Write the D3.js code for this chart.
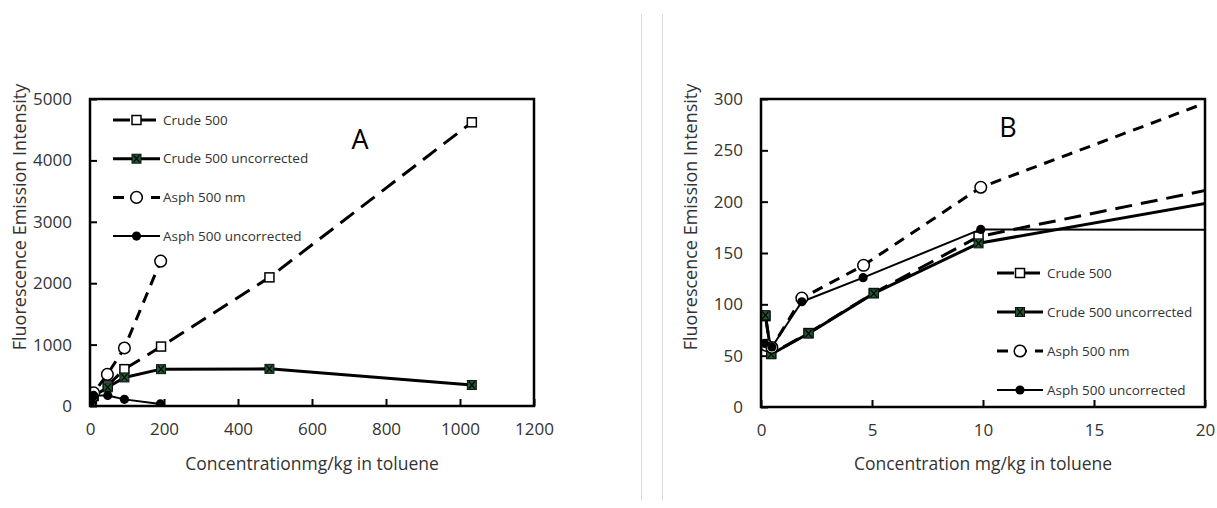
<!DOCTYPE html>
<html>
<head>
<meta charset="utf-8">
<script src="https://cdn.jsdelivr.net/npm/d3@7"></script>
<style>
  body { margin: 0; background: #fff; }
  svg text { font-family: "Open Sans", sans-serif; }
</style>
</head>
<body>
<svg id="chart" width="1217" height="508"></svg>
<script>
// Concentrations (mg/kg in toluene) and fluorescence emission intensities
const crudeConc      = [0.2, 0.46, 2.14, 5.08, 9.8, 48, 93, 192, 485, 1032];
const crude500       = [88.5, 51.8, 72, 111, 166, 334, 600, 968, 2095, 4620];
const crudeUncorr    = [89.5, 51.4, 71.6, 110.7, 159.4, 305, 465, 600, 605, 342];
const asphConc       = [0.24, 0.49, 1.84, 4.62, 9.9, 47, 93, 191];
const asph500        = [60, 58, 106, 138, 214, 515, 945, 2360];
const asphUncorrConc = [0.15, 0.49, 1.84, 4.6, 9.9, 48, 93, 190];
const asphUncorr     = [62, 58.5, 102.5, 126, 173, 172, 108, 33];

const seriesNames = ["Crude 500", "Crude 500 uncorrected", "Asph 500 nm", "Asph 500 uncorrected"];

const ticksAx = [0, 200, 400, 600, 800, 1000, 1200];
const ticksAy = [0, 1000, 2000, 3000, 4000, 5000];
const ticksBx = [0, 5, 10, 15, 20];
const ticksBy = [0, 50, 100, 150, 200, 250, 300];

const svg = d3.select("#chart");
const TEXT = "#333333";
const GREEN = "#1d5a33";

// light separators between the two panels
svg.selectAll("line.sep").data([641.5, 662.5]).join("line")
  .attr("x1", d => d).attr("x2", d => d).attr("y1", 14).attr("y2", 500)
  .attr("stroke", "#d9d9d9").attr("stroke-width", 1);

const series = [
  { name: seriesNames[0], xs: crudeConc, ys: crude500, dash: "17,9", width: 3, marker: "openSquare" },
  { name: seriesNames[1], xs: crudeConc, ys: crudeUncorr, dash: null, width: 3, marker: "greenSquare" },
  { name: seriesNames[2], xs: asphConc, ys: asph500, dash: "11,8", width: 3, marker: "openCircle" },
  { name: seriesNames[3], xs: asphUncorrConc, ys: asphUncorr, dash: null, width: 2, marker: "dot" }
];

function drawMarker(g, type, x, y) {
  if (type === "openSquare") {
    g.append("rect").attr("x", x - 4.5).attr("y", y - 4.5).attr("width", 9).attr("height", 9)
      .attr("fill", "#fff").attr("stroke", "#000").attr("stroke-width", 1.5);
  } else if (type === "greenSquare") {
    g.append("rect").attr("x", x - 4.5).attr("y", y - 4.5).attr("width", 9).attr("height", 9)
      .attr("fill", GREEN).attr("stroke", "#111").attr("stroke-width", 1);
    g.append("path").attr("d", `M${x - 3},${y - 3.5}L${x + 3},${y + 3.5}M${x + 3},${y - 3.5}L${x - 3},${y + 3.5}`)
      .attr("stroke", "#000").attr("stroke-width", 1.2);
  } else if (type === "openCircle") {
    g.append("circle").attr("cx", x).attr("cy", y).attr("r", 5.8)
      .attr("fill", "#fff").attr("stroke", "#000").attr("stroke-width", 1.5);
  } else {
    g.append("circle").attr("cx", x).attr("cy", y).attr("r", 4.6).attr("fill", "#000");
  }
}

function drawPanel(cfg) {
  const { id, left, right, top, bottom, xMax, yMax, xt, yt, xTitle, letter, letterPos, legend } = cfg;
  const x = d3.scaleLinear().domain([0, xMax]).range([left, right]);
  const y = d3.scaleLinear().domain([0, yMax]).range([bottom, top]);
  const g = svg.append("g");

  g.append("clipPath").attr("id", "clip" + id)
    .append("rect").attr("x", left).attr("y", top).attr("width", right - left).attr("height", bottom - top);

  // axes with inward ticks
  const ax = g.append("g").attr("transform", `translate(0,${bottom})`)
    .call(d3.axisBottom(x).tickValues(xt).tickSizeInner(-7).tickSizeOuter(0).tickPadding(17).tickFormat(d3.format("d")));
  const ay = g.append("g").attr("transform", `translate(${left},0)`)
    .call(d3.axisLeft(y).tickValues(yt).tickSizeInner(-7).tickSizeOuter(0).tickPadding(18).tickFormat(d3.format("d")));
  [ax, ay].forEach(a => {
    a.select(".domain").remove();
    a.selectAll(".tick line").attr("stroke", "#000").attr("stroke-width", 2);
    a.selectAll(".tick text").attr("fill", TEXT).attr("font-size", 17);
  });

  // data lines and markers
  const plot = g.append("g").attr("clip-path", `url(#clip${id})`);
  series.forEach(s => {
    const pts = s.xs.map((v, i) => [x(v), y(s.ys[i])]);
    plot.append("path").attr("d", d3.line()(pts)).attr("fill", "none")
      .attr("stroke", "#000").attr("stroke-width", s.width)
      .attr("stroke-dasharray", s.dash).attr("stroke-linejoin", "round");
  });
  series.forEach(s => {
    const mg = plot.append("g");
    s.xs.forEach((v, i) => drawMarker(mg, s.marker, x(v), y(s.ys[i])));
  });

  // frame
  g.append("rect").attr("x", left).attr("y", top).attr("width", right - left).attr("height", bottom - top)
    .attr("fill", "none").attr("stroke", "#000").attr("stroke-width", 2.5);

  // legend
  series.forEach((s, i) => {
    const ly = legend.y0 + i * legend.dy;
    g.append("line").attr("x1", legend.x0).attr("x2", legend.x1).attr("y1", ly).attr("y2", ly)
      .attr("stroke", "#000").attr("stroke-width", s.width).attr("stroke-dasharray", s.dash);
    drawMarker(g, s.marker, (legend.x0 + legend.x1) / 2, ly);
    g.append("text").attr("x", legend.tx).attr("y", ly).attr("dy", "0.35em")
      .attr("font-size", 13.5).attr("fill", TEXT).text(s.name);
  });

  // panel letter
  g.append("text").attr("x", letterPos[0]).attr("y", letterPos[1]).attr("dy", "0.35em")
    .attr("text-anchor", "middle").attr("font-size", 27).attr("fill", "#000").text(letter);

  // axis titles
  g.append("text").attr("x", (left + right) / 2).attr("y", 464).attr("dy", "0.35em")
    .attr("text-anchor", "middle").attr("font-size", 17.5).attr("fill", TEXT).text(xTitle);
  g.append("text").attr("transform", `translate(${left - 70},217) rotate(-90)`).attr("dy", "0.35em")
    .attr("text-anchor", "middle").attr("font-size", 18).attr("fill", TEXT)
    .text("Fluorescence Emission  Intensity");
}

drawPanel({
  id: "A", left: 90, right: 534, top: 99, bottom: 406, xMax: 1200, yMax: 5000,
  xt: ticksAx, yt: ticksAy, xTitle: "Concentrationmg/kg in toluene",
  letter: "A", letterPos: [360, 140],
  legend: { x0: 113, x1: 160, tx: 163, y0: 120, dy: 38.7 }
});
drawPanel({
  id: "B", left: 761, right: 1205, top: 99, bottom: 407, xMax: 20, yMax: 300,
  xt: ticksBx, yt: ticksBy, xTitle: "Concentration mg/kg in toluene",
  letter: "B", letterPos: [1008, 128],
  legend: { x0: 997, x1: 1043, tx: 1047, y0: 273, dy: 39 }
});
</script>
</body>
</html>
